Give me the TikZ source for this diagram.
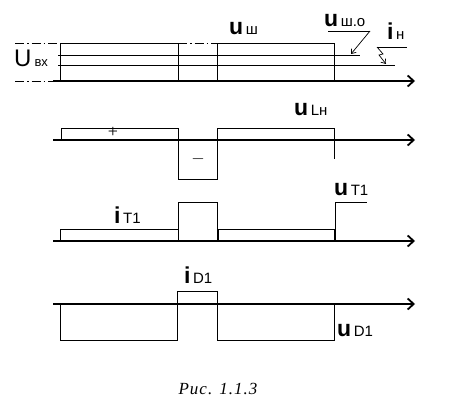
\documentclass[tikz,border=0pt]{standalone}
\usepackage{fontspec}
\setmainfont{Liberation Serif}
\setsansfont{Liberation Sans}
\usetikzlibrary{arrows.meta}
% waveform label: bold letter, small subscript on the baseline
\newcommand{\wlbl}[2]{{\sffamily{\fontsize{23}{23}\selectfont\bfseries #1}\hspace{2.5pt}{\fontsize{15}{15}\selectfont #2}}}
\begin{document}
\begin{tikzpicture}[x=1pt,y=-1pt,>={Straight Barb[length=6pt,width=11pt]}]
  \tikzstyle{axis}=[line width=1.8pt,->]
  \tikzstyle{wave}=[line width=0.9pt]
  \tikzstyle{guide}=[line width=0.8pt,dash pattern=on 9pt off 3pt on 1.5pt off 3pt]
  \tikzstyle{lbl}=[inner sep=0pt,anchor=base west]
  \tikzstyle{pointer}=[line width=0.7pt,-{Straight Barb[length=4pt,width=6pt]}]
  \def\ya{81}	% axis of U_vx
  \def\yb{140}	% axis of u_L
  \def\yc{241}	% axis of i_T1, u_T1
  \def\yd{304}	% axis of u_D1, i_D1
  \def\xa{60}	% start of first pulse
  \def\xb{178}	% end of first pulse
  \def\xc{217}	% end of pause
  \def\xd{334}	% end of second pulse
  \useasboundingbox (0,0) rectangle (449,417);
  % time axes
  \foreach \y/\n in {\ya/a,\yb/b,\yc/c,\yd/d} {
    \coordinate (o\n) at (53,\y);
    \coordinate (e\n) at (415,\y);
    \draw[axis] (o\n) -- (e\n);
  }
  % input voltage and shunt
  \draw[guide] (15,\ya) -- (oa);
  \draw[guide] (15,43) -- (\xa,43);
  \draw[guide] (\xb,43) -- (\xc,43);
  \draw[wave] (\xa,\ya) |- (\xb,43) -- (\xb,\ya);
  \draw[wave] (\xc,\ya) |- (\xd,43) -- (\xd,\ya);
  \draw[wave] (58,55) coordinate (sho) -- (360,55) coordinate (shoe);
  \draw[wave] (58,65) coordinate (ild) -- (395,65) coordinate (ilde);
  \node[lbl] (uvx) at (14,67) {\sffamily{\fontsize{24}{24}\selectfont U}\hspace{3pt}{\fontsize{13}{13}\selectfont вх}};
  \node[lbl] (ush) at (229,35) {\wlbl{u}{ш}};
  \node[lbl] (usho) at (324,27) {\wlbl{u}{ш.о}};
  \node[lbl] (in) at (387,40) {\wlbl{i}{н}};
  \draw[wave] (328,31) coordinate (usho1) -- (370,31) coordinate (usho2);
  \draw[pointer] (usho2) -- (351,54);
  \draw[wave] (377,47) coordinate (in1) -- (407,47);
  \draw[pointer] (in1) -- (383,54) -- (379,55) -- (386,64);
  % inductor voltage
  \draw[wave] (61,\yb) |- (\xb,128) |- (\xc,179) |- (\xd,128) -- (\xd,159);
  \node (plus) at (113,132) {\fontsize{18}{18}\selectfont +};
  \node (minus) at (198,159) {\fontsize{18}{18}\selectfont $-$};
  \node[lbl] (uL) at (294,115) {\wlbl{u}{Lн}};
  % transistor current and voltage
  \draw[wave] (\xa,\yc) |- (\xb,229) -- (\xb,\yc);
  \draw[wave] (\xb,\yc) |- (\xc,202) -- (\xc,\yc);
  \draw[wave] (218,\yc) |- (\xd,229) -- (\xd,\yc);
  \draw[wave] (335,\yc) |- (367,202);
  \node[lbl] (iT) at (114,223) {\wlbl{i}{T1}};
  \node[lbl] (uT) at (334,195) {\wlbl{u}{T1}};
  % diode voltage and current
  \draw[wave] (\xa,\yd) |- (177,340) |- (\xc,291) |- (\xd,340) -- (\xd,\yd);
  \node[lbl] (iD) at (184,283) {\wlbl{i}{D1}};
  \node[lbl] (uD) at (337,336) {\wlbl{u}{D1}};
  % caption
  \node (cap) at (218,389) {\fontsize{17}{17}\selectfont\itshape\addfontfeature{LetterSpace=6}Рис. 1.1.3};
\end{tikzpicture}
\end{document}
